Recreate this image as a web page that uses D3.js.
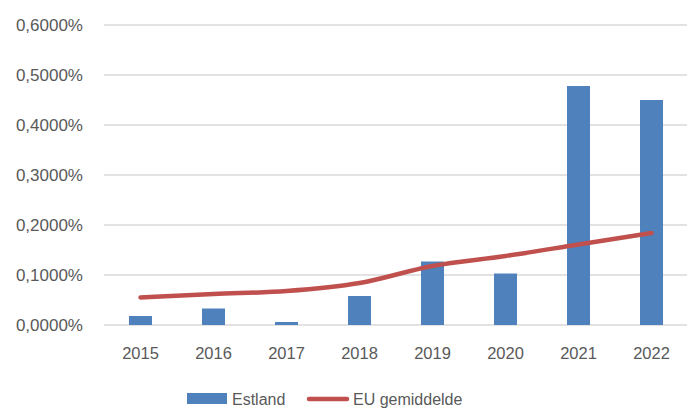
<!DOCTYPE html>
<html>
<head>
<meta charset="utf-8">
<script src="https://cdn.jsdelivr.net/npm/d3@7"></script>
<style>
  body { margin: 0; background: #fff; }
  svg text { font-family: "Liberation Sans", Arial, sans-serif; fill: #595959; }
</style>
</head>
<body>
<script>
// Data
const years = ["2015", "2016", "2017", "2018", "2019", "2020", "2021", "2022"];
const estland = [0.018, 0.033, 0.006, 0.058, 0.127, 0.103, 0.478, 0.450];
const euAverage = [0.055, 0.062, 0.068, 0.084, 0.118, 0.138, 0.161, 0.184];
const yTicks = [0, 0.1, 0.2, 0.3, 0.4, 0.5, 0.6];

const W = 687, H = 408;
const plot = { left: 104, right: 688, top: 25, bottom: 325 };

const svg = d3.select("body").append("svg")
  .attr("width", W)
  .attr("height", H);

const x = d3.scaleBand().domain(years).range([plot.left, plot.right]).paddingInner(0.685).paddingOuter(0.3425);
const xc = d => x(d) + x.bandwidth() / 2;
const y = d3.scaleLinear().domain([0, 0.6]).range([plot.bottom, plot.top]);

const fmt = v => v.toFixed(4).replace(".", ",") + "%";

// Gridlines
svg.append("g")
  .selectAll("line")
  .data(yTicks)
  .enter().append("line")
  .attr("x1", plot.left)
  .attr("x2", plot.right)
  .attr("y1", d => y(d))
  .attr("y2", d => y(d))
  .attr("stroke", "#d9d9d9")
  .attr("stroke-width", 1.5);

// Y axis labels
svg.append("g")
  .selectAll("text")
  .data(yTicks)
  .enter().append("text")
  .attr("x", 83)
  .attr("y", d => y(d))
  .attr("dy", "0.36em")
  .attr("text-anchor", "end")
  .style("font-size", "17px")
  .text(fmt);

// X axis labels
svg.append("g")
  .selectAll("text")
  .data(years)
  .enter().append("text")
  .attr("x", d => xc(d))
  .attr("y", 359)
  .attr("text-anchor", "middle")
  .style("font-size", "16.5px")
  .text(d => d);

// Bars
svg.append("g")
  .selectAll("rect")
  .data(years)
  .enter().append("rect")
  .attr("x", d => x(d))
  .attr("width", x.bandwidth())
  .attr("y", (d, i) => y(estland[i]))
  .attr("height", (d, i) => y(0) - y(estland[i]))
  .attr("fill", "#4f81bd");

// EU line
const line = d3.line()
  .x((d, i) => xc(years[i]))
  .y(d => y(d))
  .curve(d3.curveMonotoneX);

svg.append("path")
  .datum(euAverage)
  .attr("d", line)
  .attr("fill", "none")
  .attr("stroke", "#c0504d")
  .attr("stroke-width", 4.5)
  .attr("stroke-linecap", "round");

// Legend
const legend = svg.append("g");
legend.append("rect")
  .attr("x", 187).attr("y", 393)
  .attr("width", 40).attr("height", 11)
  .attr("fill", "#4f81bd");
legend.append("text")
  .attr("x", 232).attr("y", 405)
  .style("font-size", "16px")
  .text("Estland");
legend.append("line")
  .attr("x1", 309).attr("x2", 347)
  .attr("y1", 399).attr("y2", 399)
  .attr("stroke", "#c0504d")
  .attr("stroke-width", 4.5)
  .attr("stroke-linecap", "round");
legend.append("text")
  .attr("x", 353).attr("y", 405)
  .style("font-size", "16px")
  .text("EU gemiddelde");
</script>
</body>
</html>
